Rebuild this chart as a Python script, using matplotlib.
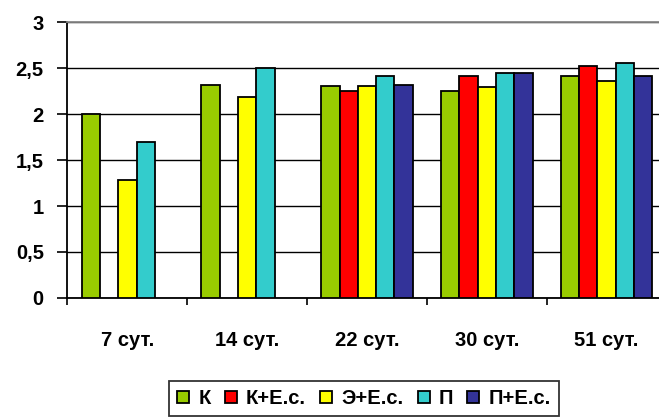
import numpy as np
import matplotlib
matplotlib.use("Agg")
import matplotlib.pyplot as plt
from matplotlib.ticker import MultipleLocator, FixedLocator, FuncFormatter

plt.rcParams['font.family'] = ['Liberation Sans', 'DejaVu Sans']

# data
groups = ["7 сут.", "14 сут.", "22 сут.", "30 сут.", "51 сут."]
series = ["К", "К+Е.с.", "Э+Е.с.", "П", "П+Е.с."]
k_vals = [2.0, 2.32, 2.30, 2.25, 2.41]
kes_vals = [np.nan, np.nan, 2.25, 2.41, 2.52]
ees_vals = [1.28, 2.19, 2.30, 2.29, 2.36]
p_vals = [1.70, 2.50, 2.41, 2.45, 2.55]
pes_vals = [np.nan, np.nan, 2.32, 2.45, 2.41]
colors = ["#99CC00", "#FF0000", "#FFFF00", "#33CCCC", "#333399"]

all_vals = [k_vals, kes_vals, ees_vals, p_vals, pes_vals]

fig = plt.figure(figsize=(6.59, 4.2), dpi=100)
ax = fig.add_axes([0.1024, 0.2905, 0.9090, 0.657])

x = np.arange(len(groups))
w = 0.153
for i, (name, vals, c) in enumerate(zip(series, all_vals, colors)):
    ax.bar(x + (i - 2) * w, vals, width=w, color=c, edgecolor="black",
           linewidth=1.3, label=name, zorder=3)

ax.set_xlim(-0.5, len(groups) - 0.5)
ax.set_ylim(0, 3)
ax.yaxis.set_major_locator(MultipleLocator(0.5))
ax.yaxis.set_major_formatter(FuncFormatter(lambda v, p: ("%g" % v).replace(".", ",")))
ax.grid(axis="y", color="black", linewidth=1.0, zorder=0)

ax.set_xticks(x)
ax.set_xticklabels(groups)
ax.xaxis.set_minor_locator(FixedLocator(np.arange(-0.5, len(groups), 1.0)))
ax.tick_params(axis="x", which="major", length=0, pad=23.5, labelsize=14.5)
ax.tick_params(axis="x", which="minor", length=5, width=1.2, direction="out")
ax.tick_params(axis="y", length=7, width=1.2, pad=10, labelsize=14.5)
for lab in ax.get_xticklabels() + ax.get_yticklabels():
    lab.set_fontweight("bold")

ax.spines["right"].set_visible(False)
ax.spines["top"].set_color("#888888")
ax.spines["top"].set_linewidth(1.3)
ax.spines["left"].set_linewidth(1.3)
ax.spines["bottom"].set_linewidth(1.3)

handles, labels = ax.get_legend_handles_labels()
leg = fig.legend(handles, labels, loc="upper center", bbox_to_anchor=(0.5524, 0.0929),
                 ncol=5, frameon=True, fancybox=False, edgecolor="black",
                 borderaxespad=0, handlelength=0.6, handleheight=0.6,
                 handletextpad=0.45, columnspacing=0.7,
                 prop={"weight": "bold", "size": 14.5})
leg.get_frame().set_linewidth(1.3)

fig.savefig("out.png", dpi=100)
